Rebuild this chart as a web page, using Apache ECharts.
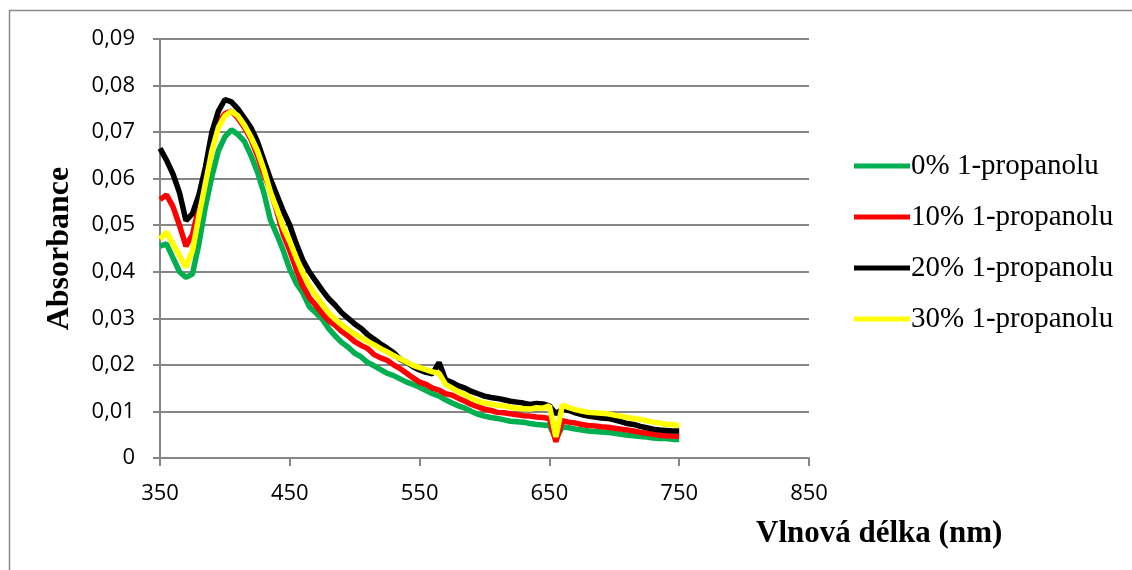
<!DOCTYPE html>
<html>
<head>
<meta charset="utf-8">
<script src="https://cdn.jsdelivr.net/npm/echarts@6/dist/echarts.min.js"></script>
<style>
  html, body { margin: 0; padding: 0; background: #fff; }
  #main { width: 1132px; height: 570px; }
</style>
</head>
<body>
<div id="main"></div>
<script>
// wavelength (nm)
const wavelengths = [
  350, 355, 360, 365, 370, 375, 380, 385, 390, 395,
  400, 405, 410, 415, 420, 425, 430, 435, 440, 445,
  450, 455, 460, 465, 470, 475, 480, 485, 490, 495,
  500, 505, 510, 515, 520, 525, 530, 535, 540, 545,
  550, 555, 560, 565, 570, 575, 580, 585, 590, 595,
  600, 605, 610, 615, 620, 625, 630, 635, 640, 645,
  650, 655, 660, 665, 670, 675, 680, 685, 690, 695,
  700, 705, 710, 715, 720, 725, 730, 735, 740, 745, 750
];

// 0% 1-propanolu
const abs0 = [
  0.0455, 0.0460, 0.0430, 0.0400, 0.0388, 0.0395, 0.0460, 0.0540, 0.0605, 0.0660,
  0.0690, 0.0705, 0.0695, 0.0680, 0.0650, 0.0615, 0.0570, 0.0512, 0.0480, 0.0445,
  0.0405, 0.0375, 0.0355, 0.0325, 0.0312, 0.0298, 0.0278, 0.0262, 0.0248, 0.0238,
  0.0225, 0.0217, 0.0205, 0.0198, 0.0190, 0.0182, 0.0177, 0.0170, 0.0163, 0.0158,
  0.0152, 0.0145, 0.0138, 0.0133, 0.0125, 0.0118, 0.0112, 0.0107, 0.0100, 0.0094,
  0.0090, 0.0087, 0.0085, 0.0082, 0.0079, 0.0078, 0.0077, 0.0074, 0.0072, 0.0071,
  0.0070, 0.0042, 0.0067, 0.0065, 0.0062, 0.0060, 0.0058, 0.0057, 0.0056, 0.0055,
  0.0053, 0.0051, 0.0049, 0.0048, 0.0046, 0.0045, 0.0043, 0.0042, 0.0042, 0.0040, 0.0040
];

// 10% 1-propanolu
const abs10 = [
  0.0555, 0.0565, 0.0540, 0.0500, 0.0455, 0.0480, 0.0540, 0.0610, 0.0670, 0.0720,
  0.0740, 0.0745, 0.0730, 0.0710, 0.0685, 0.0650, 0.0610, 0.0575, 0.0530, 0.0480,
  0.0445, 0.0405, 0.0370, 0.0345, 0.0328, 0.0310, 0.0295, 0.0285, 0.0272, 0.0262,
  0.0250, 0.0242, 0.0235, 0.0222, 0.0215, 0.0210, 0.0200, 0.0192, 0.0182, 0.0172,
  0.0163, 0.0158, 0.0150, 0.0146, 0.0138, 0.0135, 0.0128, 0.0122, 0.0115, 0.0110,
  0.0105, 0.0102, 0.0098, 0.0097, 0.0095, 0.0093, 0.0091, 0.0090, 0.0088, 0.0087,
  0.0085, 0.0035, 0.0080, 0.0077, 0.0075, 0.0072, 0.0070, 0.0069, 0.0067, 0.0066,
  0.0064, 0.0062, 0.0060, 0.0058, 0.0055, 0.0053, 0.0051, 0.0049, 0.0048, 0.0047, 0.0046
];

// 20% 1-propanolu
const abs20 = [
  0.0665, 0.0640, 0.0610, 0.0570, 0.0510, 0.0525, 0.0565, 0.0625, 0.0700, 0.0745,
  0.0770, 0.0765, 0.0750, 0.0730, 0.0710, 0.0680, 0.0640, 0.0600, 0.0565, 0.0530,
  0.0500, 0.0460, 0.0425, 0.0400, 0.0380, 0.0360, 0.0342, 0.0328, 0.0312, 0.0300,
  0.0288, 0.0278, 0.0265, 0.0255, 0.0245, 0.0236, 0.0226, 0.0212, 0.0205, 0.0196,
  0.0189, 0.0184, 0.0181, 0.0205, 0.0168, 0.0162, 0.0155, 0.0150, 0.0143, 0.0138,
  0.0133, 0.0130, 0.0128, 0.0125, 0.0122, 0.0120, 0.0118, 0.0115, 0.0117, 0.0116,
  0.0112, 0.0095, 0.0105, 0.0102, 0.0097, 0.0093, 0.0090, 0.0088, 0.0086, 0.0085,
  0.0082, 0.0078, 0.0074, 0.0072, 0.0068, 0.0065, 0.0062, 0.0060, 0.0059, 0.0058, 0.0058
];

// 30% 1-propanolu
const abs30 = [
  0.0470, 0.0485, 0.0460, 0.0435, 0.0410, 0.0445, 0.0520, 0.0590, 0.0660, 0.0710,
  0.0735, 0.0745, 0.0735, 0.0715, 0.0690, 0.0660, 0.0620, 0.0572, 0.0535, 0.0495,
  0.0465, 0.0430, 0.0397, 0.0370, 0.0350, 0.0330, 0.0312, 0.0298, 0.0286, 0.0276,
  0.0266, 0.0258, 0.0250, 0.0243, 0.0235, 0.0228, 0.0220, 0.0213, 0.0206, 0.0199,
  0.0194, 0.0190, 0.0185, 0.0182, 0.0158, 0.0150, 0.0142, 0.0136, 0.0128, 0.0122,
  0.0118, 0.0116, 0.0113, 0.0112, 0.0109, 0.0107, 0.0106, 0.0105, 0.0108, 0.0107,
  0.0112, 0.0045, 0.0114, 0.0108, 0.0104, 0.0101, 0.0098, 0.0097, 0.0096, 0.0095,
  0.0092, 0.0090, 0.0087, 0.0085, 0.0083, 0.0080, 0.0077, 0.0075, 0.0072, 0.0072, 0.0070
];

const seriesNames = ["0% 1-propanolu", "10% 1-propanolu", "20% 1-propanolu", "30% 1-propanolu"];
const seriesColors = ["#00B050", "#FF0000", "#000000", "#FFFF00"];
const seriesValues = [abs0, abs10, abs20, abs30];

const chart = echarts.init(document.getElementById("main"));

const axisGray = "#868686";

const option = {
  animation: false,
  backgroundColor: "#fff",
  graphic: [{
    type: "rect",
    shape: { x: 9.5, y: 10.5, width: 1200, height: 700 },
    style: { fill: "none", stroke: "#8a8a8a", lineWidth: 1.5 },
    silent: true
  }],
  title: {
    text: "Vlnová délka (nm)",
    left: 751,
    top: 513,
    textStyle: {
      fontFamily: "Liberation Serif",
      fontWeight: "bold",
      fontSize: 31,
      color: "#000"
    }
  },
  legend: {
    orient: "vertical",
    left: 849,
    top: 146,
    icon: "rect",
    itemWidth: 56,
    itemHeight: 5,
    itemGap: 21,
    textStyle: {
      fontFamily: "Liberation Serif",
      fontSize: 29,
      color: "#000",
      lineHeight: 30,
      padding: [0, 0, 0, -4]
    },
    data: seriesNames
  },
  grid: { left: 160, right: 323, top: 39, bottom: 112 },
  xAxis: {
    type: "value",
    min: 350,
    max: 850,
    interval: 100,
    axisLine: { lineStyle: { color: axisGray, width: 2 } },
    axisTick: { show: true, length: 8, lineStyle: { color: axisGray, width: 2 } },
    axisLabel: {
      margin: 25,
      fontFamily: "Open Sans",
      fontSize: 22,
      color: "#000"
    },
    splitLine: { show: false }
  },
  yAxis: {
    type: "value",
    min: 0,
    max: 0.09,
    interval: 0.01,
    name: "Absorbance",
    nameLocation: "middle",
    nameRotate: 90,
    nameGap: 84,
    nameTextStyle: {
      fontFamily: "Liberation Serif",
      fontWeight: "bold",
      fontSize: 32,
      color: "#000"
    },
    axisLine: { show: true, lineStyle: { color: axisGray, width: 2 } },
    axisTick: { show: true, length: 7, lineStyle: { color: axisGray, width: 2 } },
    axisLabel: {
      margin: 25,
      fontFamily: "Open Sans",
      fontSize: 22,
      color: "#000",
      formatter: (v) => (v === 0 ? "0" : v.toFixed(2).replace(".", ","))
    },
    splitLine: { show: true, lineStyle: { color: axisGray, width: 2 } }
  },
  series: seriesNames.map((name, k) => ({
    name: name,
    type: "line",
    data: wavelengths.map((w, i) => [w, seriesValues[k][i]]),
    symbol: "none",
    showSymbol: false,
    color: seriesColors[k],
    lineStyle: { width: 5.5, color: seriesColors[k] }
  }))
};

chart.setOption(option);
</script>
</body>
</html>
